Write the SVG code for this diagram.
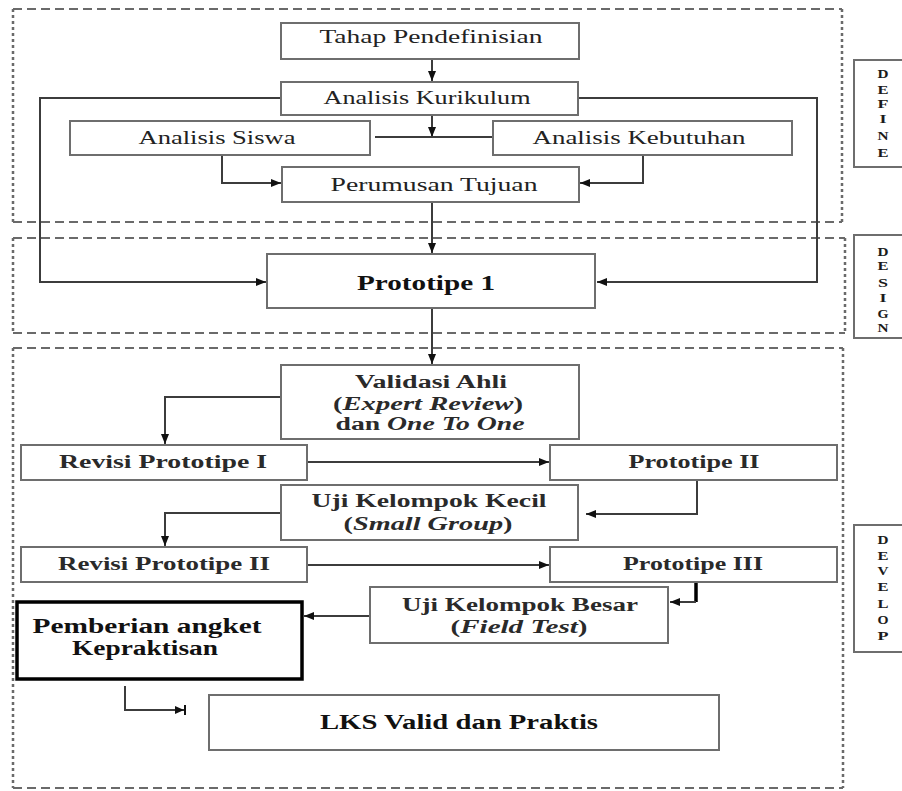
<svg xmlns="http://www.w3.org/2000/svg" width="902" height="791" viewBox="0 0 902 791">
<style>
.bg{fill:#fff}
.h{fill:none;stroke:#6a6a6a;stroke-width:2;stroke-dasharray:9 5}
.v{fill:none;stroke:#6a6a6a;stroke-width:2.5;stroke-dasharray:3 3}
.box{fill:#fff;stroke:#6e6e6e;stroke-width:2}
.thick{fill:#fff;stroke:#000;stroke-width:3.5}
.t{font-family:"Liberation Serif","Times New Roman",serif;font-size:19px;fill:#222;text-anchor:middle}
.b{font-family:"Liberation Serif","Times New Roman",serif;font-size:18px;font-weight:bold;fill:#2a2a2a;text-anchor:middle}
.bb{font-family:"Liberation Serif","Times New Roman",serif;font-size:20px;font-weight:bold;fill:#111;text-anchor:middle}
.side{font-family:"Liberation Serif","Times New Roman",serif;font-size:13px;font-weight:bold;fill:#1a1a1a;text-anchor:middle}
.c{fill:none;stroke:#3c3c3c;stroke-width:2}
.ck{fill:none;stroke:#000;stroke-width:3.5}
</style>
<defs>
<marker id="ah" markerWidth="10" markerHeight="8" refX="10" refY="4" orient="auto" markerUnits="userSpaceOnUse">
<path d="M0,0 L10,4 L0,8 Z" fill="#111"/>
</marker>
<marker id="ahb" markerWidth="12" markerHeight="12" refX="11" refY="6" orient="auto" markerUnits="userSpaceOnUse">
<path d="M1,2 L10,6 L1,10 Z" fill="#111"/>
<path d="M11,1 L11,11" stroke="#111" stroke-width="2"/>
</marker>
</defs>
<rect class="bg" width="902" height="791"/>

<g id="phase-frames">
<path class="h" d="M13,9 H842 M13,222 H842"/>
<path class="v" d="M13,9 V222 M842,9 V222"/>
<path class="h" d="M13,238 H845 M13,333 H845"/>
<path class="v" d="M13,238 V333 M845,238 V333"/>
<path class="h" d="M13,348 H843 M13,788 H843"/>
<path class="v" d="M13,348 V788 M843,348 V788"/>
</g>

<g id="connectors">
<path class="c" d="M432,59 V81" marker-end="url(#ah)"/>
<path class="c" d="M432,115 V137" marker-end="url(#ah)"/>
<path class="c" d="M375,137 H493"/>
<path class="c" d="M222,155 V183 H281" marker-end="url(#ah)"/>
<path class="c" d="M643,155 V183 H580" marker-end="url(#ah)"/>
<path class="c" d="M281,98 H40 V282 H266" marker-end="url(#ah)"/>
<path class="c" d="M578,98 H817 V282 H597" marker-end="url(#ah)"/>
<path class="c" d="M432,202 V253" marker-end="url(#ah)"/>
<path class="c" d="M432,308 V364" marker-end="url(#ah)"/>
<path class="c" d="M281,397 H165 V444" marker-end="url(#ah)"/>
<path class="c" d="M307,462 H549" marker-end="url(#ah)"/>
<path class="c" d="M697,480 V514 H586" marker-end="url(#ah)"/>
<path class="c" d="M281,513 H165 V546" marker-end="url(#ah)"/>
<path class="c" d="M307,565 H549" marker-end="url(#ah)"/>
<path class="ck" d="M696,583 V602"/>
<path class="c" d="M696,602 H670" marker-end="url(#ah)"/>
<path class="c" d="M370,616 H304" marker-end="url(#ah)"/>
<path class="c" d="M125,686 V710 H185" marker-end="url(#ahb)"/>
</g>

<g id="tahap-pendefinisian">
<rect class="box" x="281" y="23" width="298" height="36"/>
<text class="t" x="431" y="43" textLength="223" lengthAdjust="spacingAndGlyphs">Tahap Pendefinisian</text>
</g>
<g id="analisis-kurikulum">
<rect class="box" x="281" y="82" width="297" height="33"/>
<text class="t" x="427" y="104" textLength="207" lengthAdjust="spacingAndGlyphs">Analisis Kurikulum</text>
</g>
<g id="analisis-siswa">
<rect class="box" x="70" y="121" width="300" height="34"/>
<text class="t" x="217" y="144" textLength="157" lengthAdjust="spacingAndGlyphs">Analisis Siswa</text>
</g>
<g id="analisis-kebutuhan">
<rect class="box" x="493" y="121" width="299" height="34"/>
<text class="t" x="639" y="144" textLength="213" lengthAdjust="spacingAndGlyphs">Analisis Kebutuhan</text>
</g>
<g id="perumusan-tujuan">
<rect class="box" x="282" y="167" width="297" height="35"/>
<text class="t" x="434" y="191" textLength="207" lengthAdjust="spacingAndGlyphs">Perumusan Tujuan</text>
</g>
<g id="prototipe-1">
<rect class="box" x="267" y="254" width="328" height="54"/>
<text class="bb" x="426" y="290" textLength="138" lengthAdjust="spacingAndGlyphs">Prototipe 1</text>
</g>
<g id="validasi-ahli">
<rect class="box" x="281" y="365" width="298" height="74"/>
<text class="b" x="431" y="388" textLength="152" lengthAdjust="spacingAndGlyphs">Validasi Ahli</text>
<text class="b" x="428" y="410" textLength="190" lengthAdjust="spacingAndGlyphs">(<tspan font-style="italic">Expert Review</tspan>)</text>
<text class="b" x="430" y="430" textLength="189" lengthAdjust="spacingAndGlyphs">dan <tspan font-style="italic">One To One</tspan></text>
</g>
<g id="revisi-prototipe-1">
<rect class="box" x="21" y="445" width="286" height="35"/>
<text class="b" x="163" y="468" textLength="208" lengthAdjust="spacingAndGlyphs">Revisi Prototipe I</text>
</g>
<g id="prototipe-2">
<rect class="box" x="550" y="445" width="287" height="35"/>
<text class="b" x="694" y="468" textLength="131" lengthAdjust="spacingAndGlyphs">Prototipe II</text>
</g>
<g id="uji-kelompok-kecil">
<rect class="box" x="281" y="485" width="297" height="55"/>
<text class="b" x="429" y="507" textLength="235" lengthAdjust="spacingAndGlyphs">Uji Kelompok Kecil</text>
<text class="b" x="428" y="530" textLength="169" lengthAdjust="spacingAndGlyphs">(<tspan font-style="italic">Small Group</tspan>)</text>
</g>
<g id="revisi-prototipe-2">
<rect class="box" x="21" y="547" width="286" height="35"/>
<text class="b" x="164" y="570" textLength="212" lengthAdjust="spacingAndGlyphs">Revisi Prototipe II</text>
</g>
<g id="prototipe-3">
<rect class="box" x="550" y="547" width="287" height="35"/>
<text class="b" x="693" y="570" textLength="140" lengthAdjust="spacingAndGlyphs">Prototipe III</text>
</g>
<g id="uji-kelompok-besar">
<rect class="box" x="370" y="587" width="298" height="56"/>
<text class="b" x="520" y="611" textLength="236" lengthAdjust="spacingAndGlyphs">Uji Kelompok Besar</text>
<text class="b" x="519" y="633" textLength="137" lengthAdjust="spacingAndGlyphs">(<tspan font-style="italic">Field Test</tspan>)</text>
</g>
<g id="pemberian-angket">
<rect class="thick" x="17" y="602" width="285" height="77"/>
<text class="bb" x="147" y="633" textLength="229" lengthAdjust="spacingAndGlyphs">Pemberian angket</text>
<text class="bb" x="145" y="655" textLength="146" lengthAdjust="spacingAndGlyphs">Kepraktisan</text>
</g>
<g id="lks-valid">
<rect class="box" x="209" y="695" width="510" height="55"/>
<text class="bb" x="459" y="729" textLength="278" lengthAdjust="spacingAndGlyphs">LKS Valid dan Praktis</text>
</g>

<g id="label-define">
<rect class="box" x="854" y="60" width="60" height="107"/>
<text class="side" x="883" y="78" textLength="11" lengthAdjust="spacingAndGlyphs">D</text>
<text class="side" x="883" y="94" textLength="11" lengthAdjust="spacingAndGlyphs">E</text>
<text class="side" x="883" y="108" textLength="11" lengthAdjust="spacingAndGlyphs">F</text>
<text class="side" x="883" y="123" textLength="7" lengthAdjust="spacingAndGlyphs">I</text>
<text class="side" x="883" y="140" textLength="11" lengthAdjust="spacingAndGlyphs">N</text>
<text class="side" x="883" y="157" textLength="11" lengthAdjust="spacingAndGlyphs">E</text>
</g>
<g id="label-design">
<rect class="box" x="854" y="235" width="60" height="103"/>
<text class="side" x="883" y="256" textLength="11" lengthAdjust="spacingAndGlyphs">D</text>
<text class="side" x="883" y="270" textLength="11" lengthAdjust="spacingAndGlyphs">E</text>
<text class="side" x="883" y="287" textLength="10" lengthAdjust="spacingAndGlyphs">S</text>
<text class="side" x="883" y="302" textLength="7" lengthAdjust="spacingAndGlyphs">I</text>
<text class="side" x="883" y="318" textLength="11" lengthAdjust="spacingAndGlyphs">G</text>
<text class="side" x="883" y="332" textLength="11" lengthAdjust="spacingAndGlyphs">N</text>
</g>
<g id="label-develop">
<rect class="box" x="854" y="525" width="60" height="127"/>
<text class="side" x="883" y="544" textLength="11" lengthAdjust="spacingAndGlyphs">D</text>
<text class="side" x="883" y="560" textLength="11" lengthAdjust="spacingAndGlyphs">E</text>
<text class="side" x="883" y="575" textLength="11" lengthAdjust="spacingAndGlyphs">V</text>
<text class="side" x="883" y="591" textLength="11" lengthAdjust="spacingAndGlyphs">E</text>
<text class="side" x="883" y="608" textLength="11" lengthAdjust="spacingAndGlyphs">L</text>
<text class="side" x="883" y="624" textLength="11" lengthAdjust="spacingAndGlyphs">O</text>
<text class="side" x="883" y="640" textLength="11" lengthAdjust="spacingAndGlyphs">P</text>
</g>
</svg>
